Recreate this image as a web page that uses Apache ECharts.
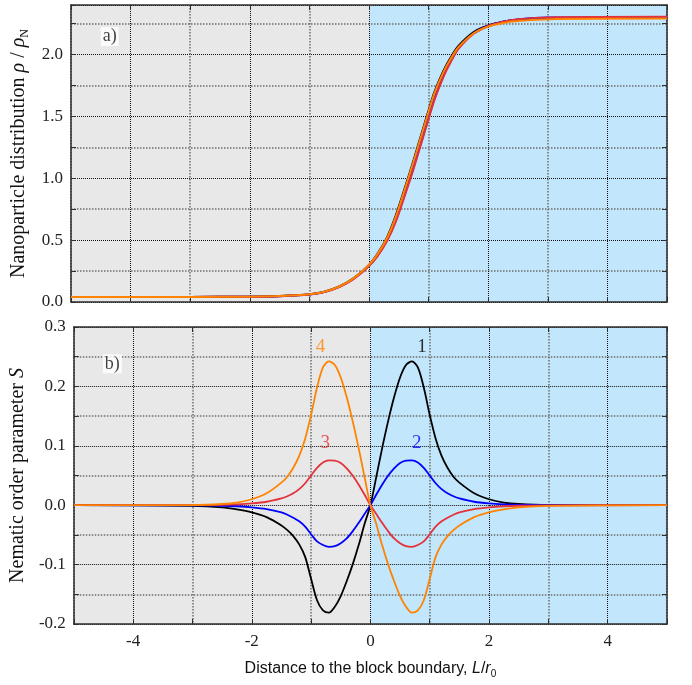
<!DOCTYPE html>
<html>
<head>
<meta charset="utf-8">
<script src="https://cdn.jsdelivr.net/npm/echarts@6/dist/echarts.min.js"></script>
<style>
  html, body { margin: 0; padding: 0; background: #ffffff; }
  #chart { width: 692px; height: 685px; }
</style>
</head>
<body>
<div id="chart"></div>
<script>
// ---- panel a): nanoparticle density profiles ----
const xTop = [-5, -3, -2, -1.5, -1, -0.75, -0.5, -0.25, 0, 0.15, 0.3, 0.45, 0.6, 0.75, 0.9, 1, 1.1, 1.25, 1.4, 1.5, 1.75, 2, 2.25, 2.5, 3, 5];
const rhoBlack  = [0.04, 0.041, 0.043, 0.048, 0.062, 0.083, 0.125, 0.195, 0.30, 0.395, 0.52, 0.70, 0.92, 1.15, 1.39, 1.55, 1.70, 1.87, 2.00, 2.07, 2.18, 2.235, 2.265, 2.28, 2.295, 2.30];
const rhoBlue   = [0.04, 0.041, 0.043, 0.047, 0.060, 0.081, 0.122, 0.19, 0.292, 0.38, 0.50, 0.66, 0.87, 1.09, 1.33, 1.49, 1.645, 1.83, 1.97, 2.05, 2.17, 2.23, 2.265, 2.283, 2.298, 2.30];
const rhoRed    = [0.04, 0.041, 0.043, 0.047, 0.060, 0.080, 0.12, 0.188, 0.29, 0.375, 0.49, 0.65, 0.86, 1.08, 1.32, 1.48, 1.635, 1.82, 1.965, 2.045, 2.165, 2.23, 2.265, 2.285, 2.30, 2.305];
const rhoOrange = [0.04, 0.041, 0.043, 0.048, 0.062, 0.083, 0.125, 0.195, 0.30, 0.393, 0.515, 0.69, 0.91, 1.14, 1.38, 1.54, 1.69, 1.86, 1.99, 2.06, 2.17, 2.225, 2.255, 2.27, 2.285, 2.29];

// ---- panel b): nematic order parameter, curves 1-4 ----
const xS = [-5, -3, -2.5, -2.25, -2, -1.75,
  -1.5, -1.4, -1.3, -1.2, -1.1, -1.0, -0.9, -0.8, -0.7, -0.6, -0.5, -0.4, -0.3, -0.2, -0.1,
  0,
  0.1, 0.2, 0.3, 0.4, 0.5, 0.6, 0.7, 0.8, 0.9, 1.0, 1.1, 1.2, 1.3, 1.4, 1.5,
  1.75, 2, 2.25, 2.5, 3, 5];
const sCurve1 = [0, -0.001, -0.0035, -0.007, -0.012, -0.020,
  -0.034, -0.042, -0.052, -0.066, -0.087, -0.124, -0.160, -0.177, -0.181, -0.171, -0.153, -0.128, -0.100, -0.068, -0.032,
  0,
  0.048, 0.097, 0.142, 0.182, 0.215, 0.236, 0.242, 0.232, 0.198, 0.152, 0.112, 0.083, 0.063, 0.048, 0.038,
  0.020, 0.010, 0.0045, 0.002, 0.0003, 0];
const sCurve2 = [0, -0.0002, -0.0009, -0.0018, -0.0035, -0.0065,
  -0.012, -0.016, -0.021, -0.027, -0.036, -0.049, -0.061, -0.067, -0.070, -0.069, -0.064, -0.056, -0.044, -0.030, -0.015,
  0,
  0.018, 0.035, 0.050, 0.062, 0.071, 0.075, 0.0755, 0.072, 0.063, 0.050, 0.037, 0.027, 0.020, 0.015, 0.0115,
  0.0058, 0.003, 0.0015, 0.0007, 0.0001, 0];
const sCurve3 = [0, 0.0001, 0.0007, 0.0015, 0.003, 0.0058,
  0.0115, 0.015, 0.020, 0.027, 0.037, 0.050, 0.063, 0.072, 0.0755, 0.075, 0.071, 0.062, 0.050, 0.035, 0.018,
  0,
  -0.015, -0.030, -0.044, -0.056, -0.064, -0.069, -0.070, -0.067, -0.061, -0.049, -0.036, -0.027, -0.021, -0.016, -0.012,
  -0.0065, -0.0035, -0.0018, -0.0009, -0.0002, 0];
const sCurve4 = [0, 0.0003, 0.002, 0.0045, 0.010, 0.020,
  0.038, 0.048, 0.063, 0.083, 0.112, 0.152, 0.198, 0.232, 0.242, 0.236, 0.215, 0.182, 0.142, 0.097, 0.048,
  0,
  -0.032, -0.068, -0.100, -0.128, -0.153, -0.171, -0.181, -0.177, -0.160, -0.124, -0.087, -0.066, -0.052, -0.042, -0.034,
  -0.020, -0.012, -0.007, -0.0035, -0.001, 0];
const curveTags = ['1', '2', '3', '4'];

// ---- axes ----
const xRange = [-5, 5];
const xLabelTicks = [-4, -2, 0, 2, 4];
const rhoRange = [0, 2.4];
const rhoLabelTicks = [0, 0.5, 1.0, 1.5, 2.0];
const sRange = [-0.2, 0.3];
const sLabelTicks = [-0.2, -0.1, 0, 0.1, 0.2, 0.3];

// block regions: matrix (x < 0) and block (x > 0)
const blockRegions = [[-5, 0], [0, 5]];
const blockColors = ['#e8e8e8', '#c2e6fb'];

const C_BLACK = '#000000', C_BLUE = '#0000ff', C_RED = '#e5323a', C_ORANGE = '#ff8300';
const SERIF = '"Liberation Serif", "Times New Roman", serif';
const SANS = '"Liberation Sans", Arial, sans-serif';
const FRAME = '#2e2e2e';
const MINOR = '#6e6e6e';

const zip = (xs, ys) => xs.map((x, i) => [x, ys[i]]);
const isLabelled = (v, list) => list.some(t => Math.abs(t - v) < 1e-6);

const chart = echarts.init(document.getElementById('chart'), null, { renderer: 'canvas' });

const grids = [
  { left: 71, right: 25, top: 5, height: 297 },
  { left: 71, right: 25, top: 327, height: 297 }
];

// bottom/left axes carry the labelled (black dotted) grid lines,
// top/right axes carry the intermediate (grey) grid lines
function xAxes(g) {
  const common = {
    type: 'value', gridIndex: g, min: xRange[0], max: xRange[1], interval: 1, z: 2,
    axisLine: { show: true, onZero: false, lineStyle: { color: FRAME, width: 1.5 } },
    axisTick: { show: true, inside: true, length: 5, lineStyle: { color: FRAME, width: 1 } }
  };
  return [
    Object.assign({}, common, {
      position: 'bottom',
      axisLabel: {
        show: g === 1, margin: 9, color: '#222', fontFamily: SERIF, fontSize: 17,
        formatter: v => isLabelled(v, xLabelTicks) ? String(v) : ''
      },
      splitLine: { show: true, lineStyle: { type: 'dotted', width: 1, color: ['rgba(0,0,0,0)', '#111'] } },
      name: g === 1 ? 'Distance to the block boundary, {i|L}/{i|r}{s|0}' : '',
      nameLocation: 'middle', nameGap: 35,
      nameTextStyle: {
        fontFamily: SANS, fontSize: 16, color: '#111',
        rich: {
          i: { fontFamily: SANS, fontSize: 16, fontStyle: 'italic', color: '#111', lineHeight: 20 },
          s: { fontFamily: SANS, fontSize: 10, color: '#111', lineHeight: 10, verticalAlign: 'bottom' }
        }
      }
    }),
    Object.assign({}, common, {
      position: 'top',
      axisLabel: { show: false },
      splitLine: { show: true, lineStyle: { type: 'dotted', width: 1.5, color: [MINOR, 'rgba(0,0,0,0)'] } }
    })
  ];
}

function yAxes(g, range, labelTicks, name, rich) {
  const common = {
    type: 'value', gridIndex: g, min: range[0], max: range[1], interval: g === 0 ? 0.25 : 0.05, z: 2,
    axisLine: { show: true, onZero: false, lineStyle: { color: FRAME, width: 1.5 } },
    axisTick: { show: true, inside: true, length: 5, lineStyle: { color: FRAME, width: 1 } }
  };
  return [
    Object.assign({}, common, {
      position: 'left',
      axisLabel: {
        show: true, margin: 8, color: '#222', fontFamily: SERIF, fontSize: 17,
        formatter: v => isLabelled(v, labelTicks) ? v.toFixed(1) : ''
      },
      splitLine: { show: true, lineStyle: { type: 'dotted', width: 1, color: ['#111', 'rgba(0,0,0,0)'] } },
      name: name, nameLocation: 'middle', nameRotate: 90, nameGap: 38,
      nameTextStyle: { fontFamily: SERIF, fontSize: 20, color: '#111', rich: rich }
    }),
    Object.assign({}, common, {
      position: 'right',
      axisLabel: { show: false },
      splitLine: { show: true, lineStyle: { type: 'dotted', width: 1.5, color: ['rgba(0,0,0,0)', MINOR] } }
    })
  ];
}

function background(g) {
  const yr = g === 0 ? rhoRange : sRange;
  return {
    type: 'custom', xAxisIndex: g * 2, yAxisIndex: g * 2, z: 1, silent: true,
    data: blockRegions,
    renderItem: (params, api) => {
      const p0 = api.coord([api.value(0), yr[1]]);
      const p1 = api.coord([api.value(1), yr[0]]);
      return {
        type: 'rect',
        shape: { x: p0[0], y: p0[1], width: p1[0] - p0[0], height: p1[1] - p0[1] },
        style: { fill: blockColors[params.dataIndex] }
      };
    }
  };
}

function curve(g, xs, ys, color, width) {
  return {
    type: 'line', xAxisIndex: g * 2, yAxisIndex: g * 2, z: 3,
    data: zip(xs, ys), showSymbol: false, smooth: 0.3, silent: true,
    lineStyle: { color: color, width: width }
  };
}

function textMark(g, x, y, text, color, boxed) {
  return {
    type: 'scatter', xAxisIndex: g * 2, yAxisIndex: g * 2, z: 5, silent: true,
    symbolSize: 1, itemStyle: { color: 'rgba(0,0,0,0)' },
    data: [[x, y]],
    label: {
      show: true, position: 'inside', formatter: text, color: color,
      fontFamily: SERIF, fontSize: boxed ? 18 : 19,
      backgroundColor: boxed ? '#ffffff' : 'transparent', padding: boxed ? [1, 2, 0, 2] : 0
    }
  };
}

const tagColors = [C_BLACK, C_BLUE, C_RED, C_ORANGE];

const option = {
  animation: false,
  backgroundColor: '#ffffff',
  grid: grids,
  xAxis: [].concat(xAxes(0), xAxes(1)),
  yAxis: [].concat(
    yAxes(0, rhoRange, rhoLabelTicks, 'Nanoparticle distribution {i|ρ} / {i|ρ}{s|N}', {
      i: { fontFamily: SERIF, fontSize: 20, fontStyle: 'italic', color: '#111', lineHeight: 24 },
      s: { fontFamily: SERIF, fontSize: 12, color: '#111', lineHeight: 13, verticalAlign: 'bottom' }
    }),
    yAxes(1, sRange, sLabelTicks, 'Nematic order parameter {i|S}', {
      i: { fontFamily: SERIF, fontSize: 20, fontStyle: 'italic', color: '#111' }
    })
  ),
  series: [
    background(0),
    background(1),
    curve(0, xTop, rhoBlack, C_BLACK, 2),
    curve(0, xTop, rhoBlue, C_BLUE, 2),
    curve(0, xTop, rhoRed, C_RED, 2),
    curve(0, xTop, rhoOrange, C_ORANGE, 2),
    curve(1, xS, sCurve1, C_BLACK, 1.8),
    curve(1, xS, sCurve2, C_BLUE, 1.8),
    curve(1, xS, sCurve3, C_RED, 1.8),
    curve(1, xS, sCurve4, C_ORANGE, 1.8),
    textMark(0, -4.35, 2.145, 'a)', '#111', true),
    textMark(1, -4.35, 0.238, 'b)', '#111', true),
    textMark(1, 0.87, 0.266, curveTags[0], tagColors[0], false),
    textMark(1, 0.78, 0.105, curveTags[1], tagColors[1], false),
    textMark(1, -0.76, 0.105, curveTags[2], tagColors[2], false),
    textMark(1, -0.84, 0.266, curveTags[3], tagColors[3], false)
  ]
};

chart.setOption(option);
</script>
</body>
</html>
